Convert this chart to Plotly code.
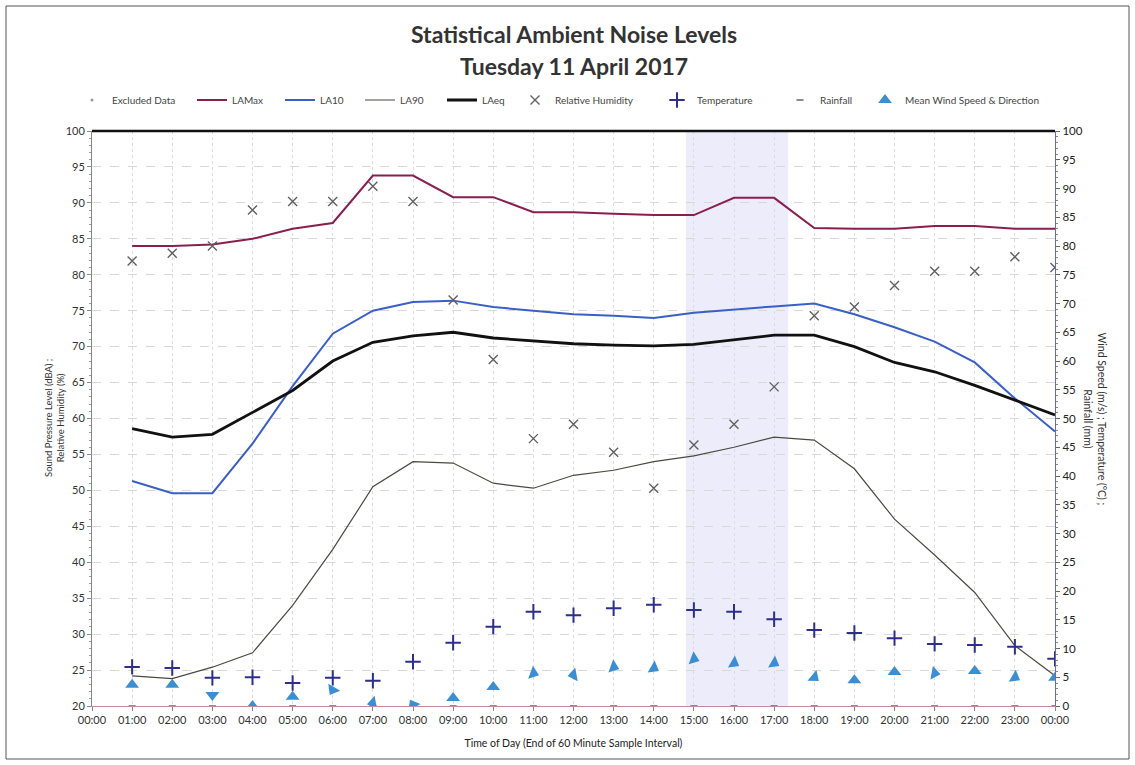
import plotly.graph_objects as go

# ---------------- data ----------------
hours = list(range(1, 25))
tick_vals = list(range(0, 25))
tick_text = [f"{h % 24:02d}:00" for h in range(0, 25)]

la_max = [84.0, 84.0, 84.2, 85.0, 86.4, 87.2, 93.8, 93.8, 90.8, 90.8, 88.7, 88.7,
          88.5, 88.3, 88.3, 90.7, 90.7, 86.5, 86.4, 86.4, 86.8, 86.8, 86.4, 86.4]
la10 = [51.3, 49.6, 49.6, 56.5, 64.5, 71.8, 75.0, 76.2, 76.4, 75.5, 75.0, 74.5,
        74.3, 74.0, 74.7, 75.2, 75.6, 76.0, 74.5, 72.7, 70.7, 67.8, 62.8, 58.2]
la90 = [24.2, 23.8, 25.4, 27.4, 34.0, 41.8, 50.5, 54.0, 53.8, 51.0, 50.3, 52.1,
        52.8, 54.0, 54.8, 56.0, 57.4, 57.0, 53.0, 46.0, 41.0, 35.8, 28.4, 24.2]
la_eq = [58.6, 57.4, 57.8, 60.8, 63.9, 68.0, 70.6, 71.5, 72.0, 71.2, 70.8, 70.4,
         70.2, 70.1, 70.3, 70.9, 71.6, 71.6, 70.0, 67.8, 66.5, 64.6, 62.5, 60.5]
humidity = [81.9, 83.0, 84.0, 89.0, 90.2, 90.2, 92.3, 90.2, 76.5, 68.2, 57.2, 59.2,
            55.3, 50.3, 56.3, 59.2, 64.4, 74.3, 75.5, 78.5, 80.5, 80.5, 82.5, 81.0]
temperature = [6.8, 6.6, 4.9, 5.0, 4.0, 4.9, 4.4, 7.7, 11.0, 13.8, 16.4, 15.8,
               17.0, 17.6, 16.7, 16.4, 15.1, 13.2, 12.7, 11.8, 10.8, 10.6, 10.3, 8.2]
rainfall = [0.0] * 24
wind_speed = [3.7, 3.7, 1.9, 0.0, 1.6, 2.8, 0.5, 0.2, 1.4, 3.3, 5.7, 5.4,
              6.8, 6.6, 8.2, 7.5, 7.5, 5.0, 4.5, 5.9, 5.7, 6.1, 5.0, 4.9]
wind_dir = [0, 0, 180, 0, 0, 210, 260, 330, 0, 0, 110, 260,
            110, 120, 110, 120, 120, 130, 0, 0, 100, 0, 120, 0]
excluded_periods = [(14.8, 17.35)]

# ---------------- figure ----------------
L, R, T, B = 92, 1055, 131, 706
W, H = 1135, 765
def px_x(p):
    return (p - L) / (R - L)
def px_y(p):
    return (B - p) / (B - T)

fig = go.Figure()

for (a, b) in excluded_periods:
    fig.add_vrect(x0=a, x1=b, fillcolor="rgba(200,200,240,0.35)", line_width=0, layer="below")

leg_font = dict(family="Lato, Arial", size=10, color="#444")

fig.add_trace(go.Scatter(x=[None], y=[None], mode="markers", name="Excluded Data",
                         marker=dict(symbol="circle", size=3, color="#999"), legend="legend"))
fig.add_trace(go.Scatter(x=hours, y=la_max, mode="lines", name="LAMax",
                         line=dict(color="#8a1f4f", width=2), legend="legend2"))
fig.add_trace(go.Scatter(x=hours, y=la10, mode="lines", name="LA10",
                         line=dict(color="#3a5fc8", width=2), legend="legend3"))
fig.add_trace(go.Scatter(x=hours, y=la90, mode="lines", name="LA90",
                         line=dict(color="#4a4a40", width=1.2), legend="legend4"))
fig.add_trace(go.Scatter(x=hours, y=la_eq, mode="lines", name="LAeq",
                         line=dict(color="#111111", width=2.8), legend="legend5"))
fig.add_trace(go.Scatter(x=hours, y=humidity, mode="markers", name="Relative Humidity",
                         marker=dict(symbol="x-thin-open", size=9, color="#606060",
                                     line=dict(color="#606060", width=1.4)),
                         legend="legend6"))
fig.add_trace(go.Scatter(x=hours, y=temperature, mode="markers", name="Temperature", yaxis="y2",
                         marker=dict(symbol="cross-thin-open", size=11, color="#2c2f8c",
                                     line=dict(color="#2c2f8c", width=2)),
                         legend="legend7"))
fig.add_trace(go.Scatter(x=hours, y=rainfall, mode="markers", name="Rainfall", yaxis="y2",
                         marker=dict(symbol="line-ew-open", size=5, color="#666",
                                     line=dict(color="#666", width=1.5)),
                         legend="legend8"))
fig.add_trace(go.Scatter(x=hours, y=wind_speed, mode="markers", name="Mean Wind Speed & Direction",
                         yaxis="y2",
                         marker=dict(symbol="triangle-up", size=12, angle=wind_dir, color="#3a8fd4",
                                     line=dict(width=0)),
                         legend="legend9"))

# legends placed individually (text start pixel positions)
legend_text_x = [112, 232, 320, 400, 482, 555, 697, 820, 905]
legend_y = px_y(100)
layout_legends = {}
for i, tx in enumerate(legend_text_x):
    key = "legend" if i == 0 else f"legend{i+1}"
    layout_legends[key] = dict(x=px_x(tx - 40), y=legend_y, xanchor="left", yanchor="middle",
                               orientation="h", font=leg_font, bgcolor="rgba(0,0,0,0)",
                               borderwidth=0, itemwidth=30)

axis_font = dict(family="Lato, Arial", size=11, color="#333")

fig.update_layout(
    width=W, height=H,
    margin=dict(l=L, r=W - R, t=T, b=H - B),
    paper_bgcolor="white", plot_bgcolor="white",
    showlegend=True,
    xaxis=dict(range=[0, 24], tickvals=tick_vals, ticktext=tick_text, tickfont=axis_font,
               showgrid=True, gridcolor="#dcdcdc", griddash="dot", gridwidth=1,
               showline=True, linecolor="#c88a9a", linewidth=1.2,
               ticks="outside", ticklen=4, tickcolor="#888", zeroline=False,
               title=dict(text="Time of Day (End of 60 Minute Sample Interval)",
                          font=dict(family="Lato, Arial", size=10.5, color="#222"), standoff=14)),
    yaxis=dict(range=[20, 100], dtick=5, tickfont=axis_font,
               showgrid=True, gridcolor="#d8d8d8", griddash="dash", gridwidth=1,
               showline=True, linecolor="#888", linewidth=1,
               ticks="outside", ticklen=4, tickcolor="#888", zeroline=False,
               minor=dict(dtick=1, ticks="outside", ticklen=2, tickcolor="#999", showgrid=False)),
    yaxis2=dict(range=[0, 100], dtick=5, overlaying="y", side="right",
                tickfont=dict(family="Lato, Arial", size=11.5, color="#222"),
                showgrid=False, showline=True, linecolor="#6a6ab0", linewidth=1.2,
                ticks="outside", ticklen=4, tickcolor="#666", zeroline=False,
                minor=dict(dtick=1, ticks="outside", ticklen=2, tickcolor="#888")),
    **layout_legends,
)

# top border of plot area
fig.add_shape(type="line", xref="paper", yref="paper", x0=0, x1=1, y0=1, y1=1,
              line=dict(color="#111", width=2.5))
# outer frame
fig.add_shape(type="rect", xref="paper", yref="paper",
              x0=px_x(6), x1=px_x(1129), y0=px_y(759), y1=px_y(6),
              line=dict(color="#555", width=1))

# title (two lines)
title_font = dict(family="Lato, Arial", size=23, color="#333")
fig.add_annotation(text="<b>Statistical Ambient Noise Levels</b>",
                   xref="paper", yref="paper", x=0.5, y=px_y(34), xanchor="center", yanchor="middle",
                   showarrow=False, font=title_font)
fig.add_annotation(text="<b>Tuesday 11 April 2017</b>",
                   xref="paper", yref="paper", x=0.5, y=px_y(66), xanchor="center", yanchor="middle",
                   showarrow=False, font=title_font)

# axis titles
fig.add_annotation(text="Sound Pressure Level (dBA) ;<br>Relative Humidity (%)",
                   xref="paper", yref="paper", x=px_x(41), y=0.5, textangle=-90,
                   showarrow=False, font=dict(family="Lato, Arial", size=9.5, color="#333"))
fig.add_annotation(text="Wind Speed (m/s) ; Temperature (°C) ;<br>Rainfall (mm)",
                   xref="paper", yref="paper", x=px_x(1110), y=0.5, textangle=90,
                   showarrow=False, font=dict(family="Lato, Arial", size=10.5, color="#333"))

fig.write_html("out.html")
